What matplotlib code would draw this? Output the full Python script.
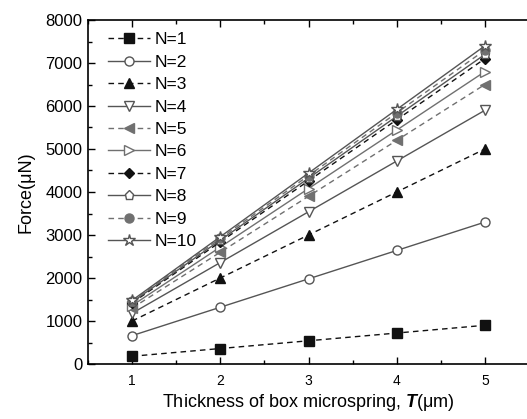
import matplotlib
matplotlib.use('Agg')
import matplotlib.pyplot as plt
from matplotlib.ticker import MultipleLocator

plt.rcParams['font.family'] = ['Liberation Sans', 'DejaVu Sans']
plt.rcParams['mathtext.fontset'] = 'custom'
plt.rcParams['mathtext.bfit'] = 'Liberation Sans:bold:italic'

thickness = [1, 2, 3, 4, 5]
force = {
    1: [180, 360, 540, 720, 900],
    2: [660, 1320, 1980, 2640, 3300],
    3: [1000, 2000, 3000, 4000, 5000],
    4: [1180, 2360, 3540, 4720, 5900],
    5: [1300, 2600, 3900, 5200, 6500],
    6: [1360, 2720, 4080, 5440, 6800],
    7: [1420, 2840, 4260, 5680, 7100],
    8: [1440, 2880, 4320, 5760, 7200],
    9: [1460, 2920, 4380, 5840, 7300],
    10: [1480, 2960, 4440, 5920, 7400],
}

black = '#111111'
gray = '#707070'
dgray = '#555555'
# (marker, line style, line colour, marker face, marker edge)
styles = {
    1: ('s', '--', black, black, black),
    2: ('o', '-', dgray, 'white', dgray),
    3: ('^', '--', black, black, black),
    4: ('v', '-', dgray, 'white', dgray),
    5: ('<', '--', gray, gray, gray),
    6: ('>', '-', gray, 'white', gray),
    7: ('D', '--', black, black, black),
    8: ('p', '-', dgray, 'white', dgray),
    9: ('o', '--', gray, gray, gray),
    10: ('*', '-', dgray, 'white', dgray),
}

fig = plt.figure(figsize=(5.27, 4.19), dpi=100)
ax = fig.add_axes([88 / 527, 55 / 419, 441 / 527, 344 / 419])

for n, vals in force.items():
    mk, ls, lc, fc, ec = styles[n]
    ms = {'*': 9, 'D': 5.5}.get(mk, 6.5)
    line, = ax.plot(thickness, vals, linestyle=ls, color=lc, marker=mk, markersize=ms,
                    markerfacecolor=fc, markeredgecolor=ec, linewidth=1.0,
                    label='N=%d' % n)
    if ls == '--':
        line.set_dashes((4, 3))

ax.set_xlim(0.5, 5.5)
ax.set_ylim(0, 8000)
ax.xaxis.set_major_locator(MultipleLocator(1))
ax.xaxis.set_minor_locator(MultipleLocator(0.5))
ax.yaxis.set_major_locator(MultipleLocator(1000))
ax.yaxis.set_minor_locator(MultipleLocator(500))
ax.tick_params(which='both', direction='in', top=True, right=False)
ax.tick_params(which='major', length=5, width=1)
ax.tick_params(which='minor', length=3, width=1)
ax.tick_params(axis='y', labelsize=12, pad=4)
ax.tick_params(axis='x', labelsize=10, pad=7)
ax.spines['right'].set_visible(False)
for s in ['left', 'bottom', 'top']:
    ax.spines[s].set_linewidth(1.2)

ax.set_ylabel('Force(μN)', fontsize=13, labelpad=8)
ax.set_xlabel(r'Thickness of box microspring, $\boldsymbol{T}$(μm)', fontsize=13, labelpad=3)

ax.legend(loc='upper left', frameon=False, fontsize=12.5, handlelength=2.4,
          handletextpad=0.3, labelspacing=0.42, borderaxespad=0.0,
          bbox_to_anchor=(0.03, 0.985))

fig.savefig('out.png', dpi=100)
